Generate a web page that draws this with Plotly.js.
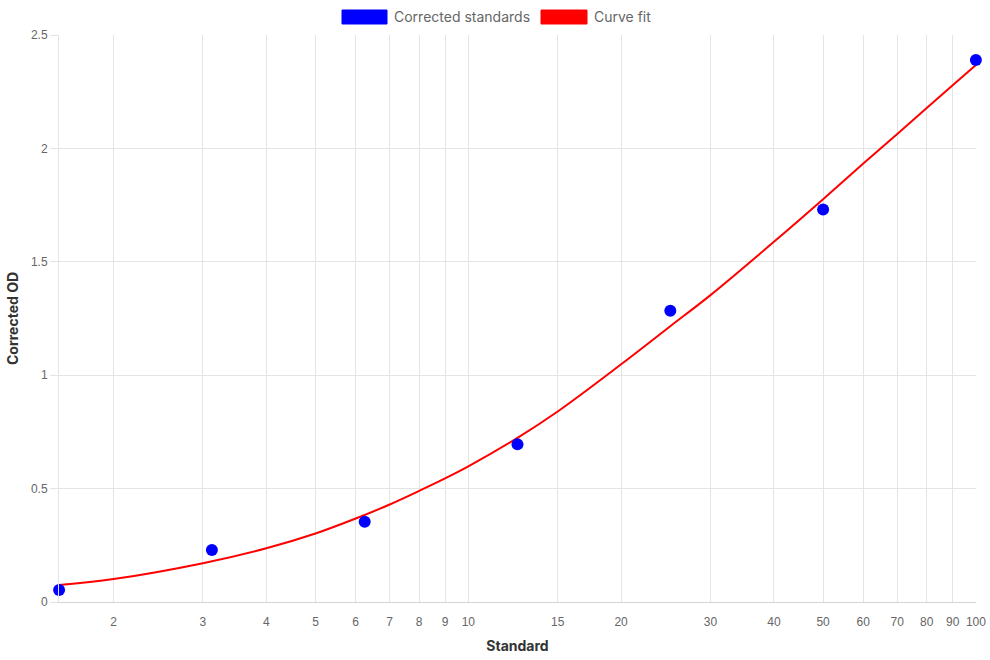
<!DOCTYPE html>
<html>
<head>
<meta charset="utf-8">
<script src="https://cdn.plot.ly/plotly-3.0.1.min.js"></script>
<style>html,body{margin:0;padding:0;background:#fff;}#chart{width:990px;height:660px;}</style>
</head>
<body>
<div id="chart"></div>
<script>
// Data
const standardX = [1.5625, 3.125, 6.25, 12.5, 25, 50, 100];
const correctedOD = [0.053, 0.229, 0.354, 0.695, 1.284, 1.731, 2.390];
const curveX = [1.5625, 2, 3, 4, 5, 6, 7, 8, 9, 10, 12.5, 15, 20, 25, 30, 40, 50, 60, 70, 80, 90, 100];
const curveY = [0.075, 0.101, 0.171, 0.237, 0.302, 0.368, 0.430, 0.490, 0.545, 0.598, 0.724, 0.840, 1.048, 1.216, 1.353, 1.588, 1.776, 1.933, 2.064, 2.178, 2.278, 2.368];
const xTickVals = [2, 3, 4, 5, 6, 7, 8, 9, 10, 15, 20, 30, 40, 50, 60, 70, 80, 90, 100];
const xTickText = ["2", "3", "4", "5", "6", "7", "8", "9", "10", "15", "20", "30", "40", "50", "60", "70", "80", "90", "100"];
const yTickVals = [0, 0.5, 1, 1.5, 2, 2.5];
const yTickText = ["0", "0.5", "1", "1.5", "2", "2.5"];
const seriesNames = ["Corrected standards", "Curve fit"];
const seriesColors = ["#0000ff", "#ff0000"];

const W = 990, H = 660;
const M = {l: 59, r: 14, t: 35, b: 58};
const pw = W - M.l - M.r, ph = H - M.t - M.b;
const px = x => (x - M.l) / pw;
const py = y => (H - M.b - y) / ph;

const titleFont = "Inter, 'Noto Sans', sans-serif";
const tickFont = "'Liberation Sans', Arial, sans-serif";

const traces = [
  {
    x: curveX, y: curveY, type: 'scatter', mode: 'lines', name: seriesNames[1],
    line: {color: seriesColors[1], width: 2, shape: 'spline', smoothing: 1},
    hoverinfo: 'skip', cliponaxis: false
  },
  {
    x: standardX, y: correctedOD, type: 'scatter', mode: 'markers', name: seriesNames[0],
    marker: {color: seriesColors[0], size: 12, line: {width: 0}},
    cliponaxis: false
  }
];

// legend boxes drawn as paper shapes
const legendItems = [
  {x0: 342, x1: 387, tx: 392},
  {x0: 541, x1: 587, tx: 592}
];
const shapes = legendItems.map((it, i) => ({
  type: 'rect', xref: 'paper', yref: 'paper',
  x0: px(it.x0), x1: px(it.x1), y0: py(24), y1: py(10),
  fillcolor: seriesColors[i], line: {color: seriesColors[i], width: 1}
}));
const annotations = legendItems.map((it, i) => ({
  xref: 'paper', yref: 'paper', x: px(it.tx), y: py(17),
  xanchor: 'left', yanchor: 'middle', showarrow: false,
  text: seriesNames[i], font: {family: titleFont, size: 14, color: '#666'}
}));

const layout = {
  width: W, height: H,
  margin: M,
  paper_bgcolor: '#fff', plot_bgcolor: '#fff',
  showlegend: false,
  font: {family: tickFont, size: 12, color: '#666'},
  xaxis: {
    type: 'log',
    range: [Math.log10(1.5625) - 0.0002, 2.0002],
    tickmode: 'array', tickvals: xTickVals, ticktext: xTickText,
    showgrid: true, gridcolor: '#e4e4e4', gridwidth: 1,
    showline: true, linecolor: '#d4d4d4', linewidth: 1,
    ticks: '', ticklabelstandoff: 9,
    tickfont: {family: tickFont, size: 12, color: '#666'},
    zeroline: false, automargin: false,
    title: {text: 'Standard', font: {family: titleFont, size: 14, color: '#333', weight: 'bold'}, standoff: 12}
  },
  yaxis: {
    range: [0, 2.5],
    tickmode: 'array', tickvals: yTickVals, ticktext: yTickText,
    showgrid: true, gridcolor: '#e4e4e4', gridwidth: 1,
    showline: true, linecolor: '#e4e4e4', linewidth: 1,
    ticks: 'outside', ticklen: 8, tickcolor: '#e4e4e4', tickwidth: 1,
    tickfont: {family: tickFont, size: 12, color: '#666'},
    zeroline: false, automargin: false,
    title: {text: 'Corrected OD', font: {family: titleFont, size: 14, color: '#333', weight: 'bold'}, standoff: 9}
  },
  shapes: shapes,
  annotations: annotations
};

Plotly.newPlot('chart', traces, layout, {displayModeBar: false, staticPlot: true});
</script>
</body>
</html>
